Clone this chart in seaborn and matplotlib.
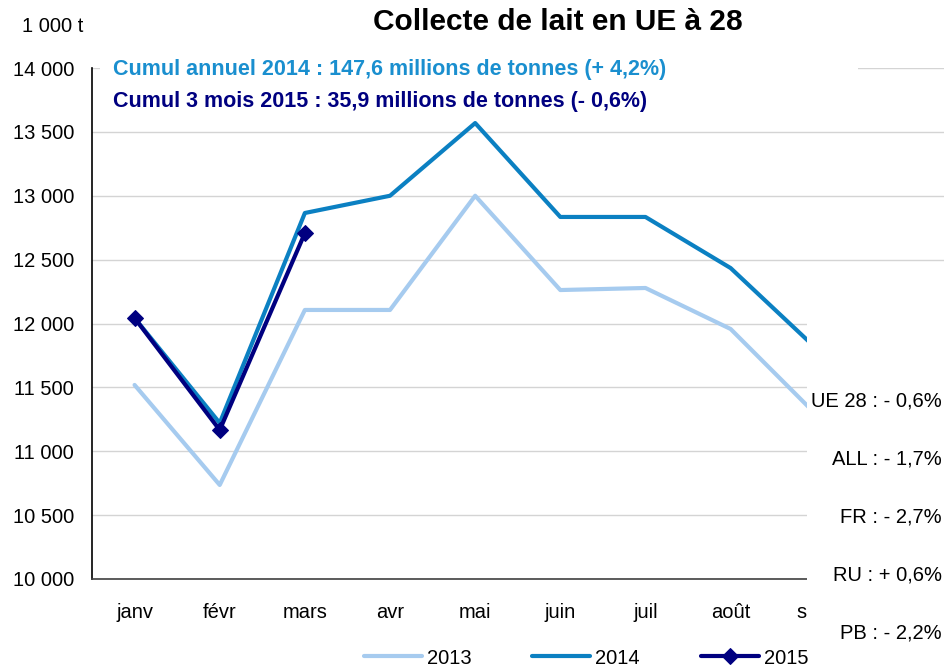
import matplotlib
matplotlib.use("Agg")
import matplotlib.pyplot as plt
import matplotlib.patches as mpatches
from matplotlib.ticker import FuncFormatter, FixedLocator
import pandas as pd
import seaborn as sns

# data (1 000 t)
MONTHS = ["janv", "févr", "mars", "avr", "mai", "juin", "juil", "août", "sept"]
V2013 = [11519, 10736, 12106, 12106, 13000, 12262, 12278, 11957, 11290]
V2014 = [12043, 11221, 12865, 13000, 13569, 12834, 12834, 12434, 11808]
V2015 = [12043, 11166, 12708]

NOTE_2014 = "Cumul annuel 2014 : 147,6 millions de tonnes (+ 4,2%)"
NOTE_2015 = "Cumul 3 mois 2015 : 35,9 millions de tonnes (- 0,6%)"
COUNTRY_NOTES = ["UE 28 : - 0,6%", "ALL : - 1,7%", "FR : - 2,7%", "RU : + 0,6%", "PB : - 2,2%"]

C2013 = "#A6CBEF"
C2014 = "#0B80C2"
C2015 = "#000080"
NOTE_BLUE = "#1A8FCF"

W, H = 945, 669


def fx(px):
    return px / W


def fy(py):
    return 1 - py / H


def main():
    sns.set_style("white")
    plt.rcParams["font.family"] = ["Liberation Sans", "DejaVu Sans"]
    plt.rcParams["text.color"] = "black"
    plt.rcParams["xtick.color"] = "black"
    plt.rcParams["ytick.color"] = "black"

    df13 = pd.DataFrame({"x": range(len(V2013)), "v": V2013})
    df14 = pd.DataFrame({"x": range(len(V2014)), "v": V2014})
    df15 = pd.DataFrame({"x": range(len(V2015)), "v": V2015})

    fig = plt.figure(figsize=(W / 100, H / 100), dpi=100)
    ax = fig.add_axes([fx(92), fy(579), fx(860), (579 - 68) / H])

    sns.lineplot(data=df13, x="x", y="v", ax=ax, color=C2013, lw=3, label="2013")
    sns.lineplot(data=df14, x="x", y="v", ax=ax, color=C2014, lw=3, label="2014")
    sns.lineplot(data=df15, x="x", y="v", ax=ax, color=C2015, lw=3, marker="D",
                 markersize=8.5, markeredgecolor=C2015, label="2015")

    ax.set_xlim(-0.5, 9.6)
    ax.set_ylim(10000, 14000)
    ax.set_yticks(range(10000, 14001, 500))
    ax.yaxis.set_major_formatter(FuncFormatter(lambda v, p: f"{v:,.0f}".replace(",", " ")))
    ax.grid(axis="y", color="#D4D4D4", lw=1)
    ax.set_axisbelow(True)

    ax.set_xticks(range(len(MONTHS)))
    ax.set_xticklabels(MONTHS)
    ax.xaxis.set_minor_locator(FixedLocator([i - 0.5 for i in range(len(MONTHS) + 1)]))
    ax.tick_params(axis="x", which="major", length=0, pad=17, labelsize=14.5,
                   labelcolor="black")
    ax.tick_params(axis="x", which="minor", length=5, width=1, color="#404040", direction="out")
    ax.tick_params(axis="y", length=5, width=1, color="black", direction="out", pad=8,
                   labelsize=14.5, labelcolor="black")
    ax.set_xlabel("")
    ax.set_ylabel("")
    for s in ["top", "right"]:
        ax.spines[s].set_visible(False)
    ax.spines["left"].set_color("black")
    ax.spines["bottom"].set_color("#404040")
    ax.spines["left"].set_linewidth(1.2)
    ax.spines["bottom"].set_linewidth(1.2)

    handles, labels = ax.get_legend_handles_labels()
    ax.get_legend().remove()
    fig.legend(handles, labels, loc="center", bbox_to_anchor=(fx(586), fy(658)), ncol=3,
               frameon=False, fontsize=14.5, handlelength=2.9, handletextpad=0.25,
               columnspacing=3.0, labelcolor="black")

    # white boxes of the original layout
    fig.add_artist(mpatches.Rectangle((fx(100), fy(118)), fx(758), (118 - 52) / H,
                                      transform=fig.transFigure, facecolor="white",
                                      edgecolor="none", zorder=2))
    fig.add_artist(mpatches.Rectangle((fx(807), 0), fx(W - 807), fy(285),
                                      transform=fig.transFigure, facecolor="white",
                                      edgecolor="none", zorder=2))

    fig.text(fx(558), fy(22), "Collecte de lait en UE à 28", ha="center", va="center",
             fontsize=21.5, fontweight="bold", zorder=4)
    fig.text(fx(22), fy(27), "1 000 t", ha="left", va="center", fontsize=14.5, zorder=4)
    fig.text(fx(113), fy(69), NOTE_2014, ha="left", va="center", fontsize=15.5,
             fontweight="bold", color=NOTE_BLUE, zorder=4)
    fig.text(fx(113), fy(101), NOTE_2015, ha="left", va="center", fontsize=15.5,
             fontweight="bold", color=C2015, zorder=4)
    for i, note in enumerate(COUNTRY_NOTES):
        fig.text(fx(942), fy(401 + 58 * i), note, ha="right", va="center",
                 fontsize=14.5, zorder=4)

    fig.savefig("out.png", dpi=100)
    plt.close(fig)


if __name__ == "__main__":
    main()
